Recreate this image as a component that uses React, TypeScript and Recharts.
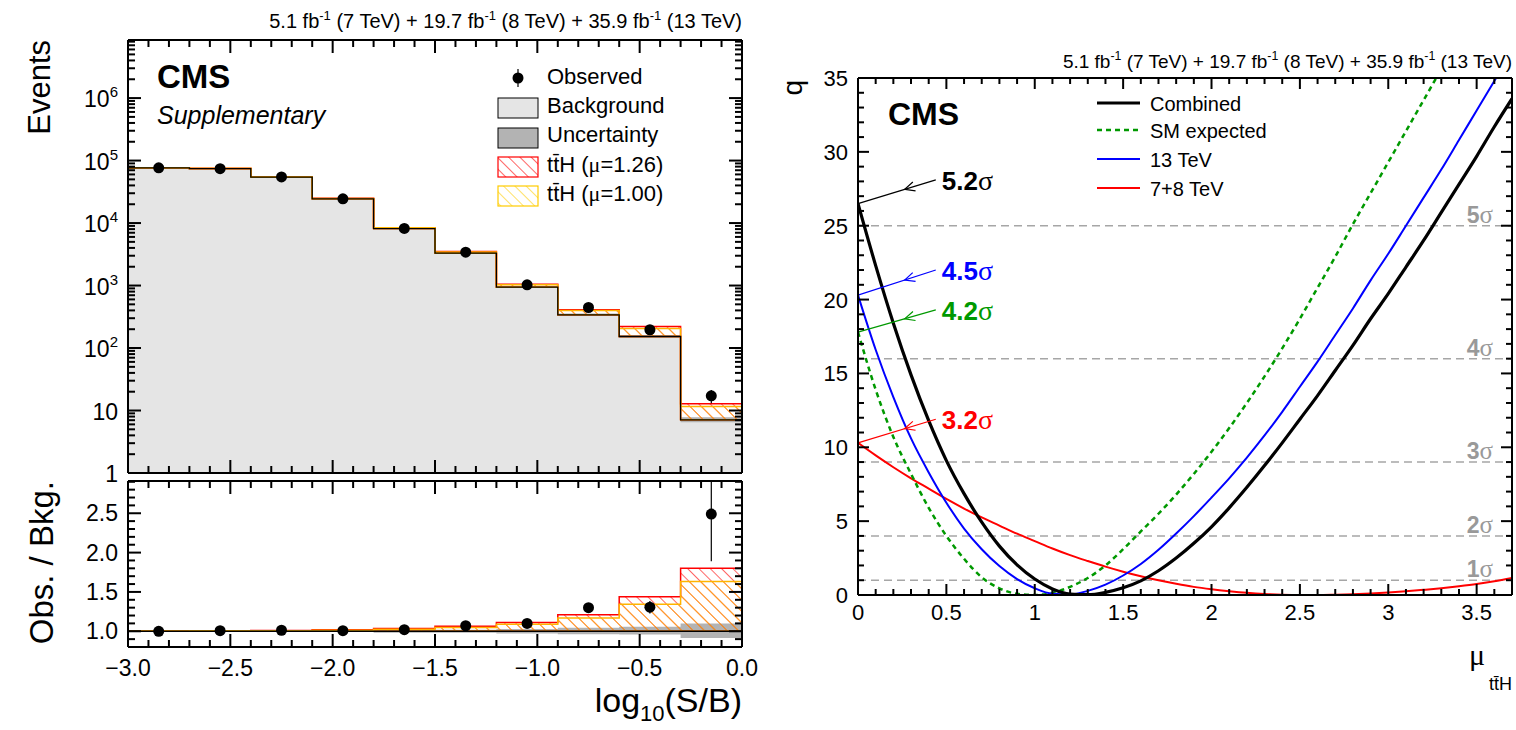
import React from "react";
import {
  ComposedChart,
  LineChart,
  Line,
  Area,
  Scatter,
  ErrorBar,
  XAxis,
  YAxis,
  ReferenceLine,
} from "recharts";

const FONT = "'Liberation Sans', Arial, Helvetica, sans-serif";
const SERIF = "'Liberation Serif', 'DejaVu Serif', serif";

// ---- left panel: events vs log10(S/B), 10 bins of 0.3
const binEdges = [-3.0, -2.7, -2.4, -2.1, -1.8, -1.5, -1.2, -0.9, -0.6, -0.3, 0.0];
const background = [76400, 74500, 54200, 24400, 8170, 3300, 943, 340, 153, 7.1];
const observed = [76400, 74000, 54700, 24400, 8200, 3420, 1026, 445, 196, 17.2];
const observedErr = [276, 272, 234, 156, 91, 58, 32, 21, 14, 4.1];
const uncLow = [0.996, 0.996, 0.995, 0.994, 0.982, 0.98, 0.972, 0.962, 0.958, 0.915];
const uncHigh = [1.004, 1.004, 1.005, 1.006, 1.018, 1.02, 1.03, 1.045, 1.058, 1.1];
const ttH126 = [1.003, 1.006, 1.01, 1.018, 1.034, 1.064, 1.11, 1.21, 1.44, 1.8];
const ttH100 = [1.002, 1.005, 1.008, 1.014, 1.025, 1.047, 1.09, 1.17, 1.344, 1.633];
const obsRatio = [1.0, 1.008, 1.013, 1.008, 1.02, 1.07, 1.1, 1.3, 1.306, 2.49];
const obsRatioErrLow = [0.004, 0.004, 0.004, 0.006, 0.011, 0.018, 0.031, 0.05, 0.08, 0.6];
const obsRatioErrHigh = [0.004, 0.004, 0.004, 0.006, 0.011, 0.018, 0.031, 0.05, 0.08, 0.42];

// ---- right panel: q vs mu_ttH
const muGrid = [
  0, 0.1, 0.2, 0.3, 0.4, 0.5, 0.6, 0.7, 0.8, 0.9, 1.0, 1.1, 1.2, 1.3, 1.4, 1.5, 1.6, 1.7, 1.8,
  1.9, 2.0, 2.1, 2.2, 2.3, 2.4, 2.5, 2.6, 2.7, 2.8, 2.9, 3.0, 3.1, 3.2, 3.3, 3.4, 3.5, 3.6, 3.7,
];
const qCombined = [
  26.5, 22.3, 18.4, 14.9, 11.8, 9.1, 6.86, 4.93, 3.31, 2.04, 1.08, 0.41, 0.06, 0.02, 0.18, 0.49,
  0.96, 1.64, 2.5, 3.5, 4.62, 5.9, 7.29, 8.76, 10.3, 11.9, 13.5, 15.2, 16.9, 18.7, 20.4, 22.2,
  24.0, 25.9, 27.8, 29.7, 31.7, 33.6,
];
const qExpected = [
  17.8, 13.9, 10.7, 8.2, 5.9, 4.0, 2.45, 1.2, 0.45, 0.08, 0.0, 0.15, 0.55, 1.15, 2.0, 3.1, 4.3,
  5.5, 6.8, 8.2, 9.7, 11.3, 13.0, 14.8, 16.7, 18.7, 20.8, 22.9, 25.1, 27.2, 29.3, 31.4, 33.5,
  35.6, 37.7, null, null, null,
];
const q13 = [
  20.3, 16.6, 13.4, 10.6, 8.3, 6.25, 4.5, 3.1, 1.96, 1.08, 0.46, 0.09, 0.05, 0.28, 0.7, 1.32, 2.1,
  3.06, 4.16, 5.34, 6.6, 7.9, 9.3, 10.8, 12.4, 14.1, 15.8, 17.6, 19.4, 21.3, 23.1, 25.0, 26.9,
  28.8, 30.8, 32.8, 34.8, 36.8,
];
const q78 = [
  10.3, 9.45, 8.65, 7.9, 7.2, 6.5, 5.85, 5.25, 4.7, 4.15, 3.65, 3.15, 2.7, 2.3, 1.92, 1.58, 1.27,
  1.0, 0.76, 0.55, 0.39, 0.26, 0.15, 0.07, 0.02, 0.0, 0.0, 0.02, 0.05, 0.1, 0.17, 0.25, 0.35,
  0.46, 0.59, 0.74, 0.93, 1.15,
];
const sigmaLevels = [1, 2, 3, 4, 5];
const sigmaNotes = [
  { text: "5.2", color: "#000000", q0: qCombined[0], qEnd: 28.1 },
  { text: "4.5", color: "#0000ff", q0: q13[0], qEnd: 22.0 },
  { text: "4.2", color: "#009900", q0: qExpected[0] as number, qEnd: 19.3 },
  { text: "3.2", color: "#ff0000", q0: q78[0], qEnd: 11.9 },
];
const lumiParts = [
  ["5.1", "7"],
  ["19.7", "8"],
  ["35.9", "13"],
];

// ---- ticks
const histMajor = [-3, -2.5, -2, -1.5, -1, -0.5, 0];
const histMajorLabels = ["\u22123.0", "\u22122.5", "\u22122.0", "\u22121.5", "\u22121.0", "\u22120.5", "0.0"];
const histMinor = Array.from({ length: 31 }, (_, i) => Math.round((-3 + i * 0.1) * 10) / 10);
const logMajor = [1, 10, 100, 1e3, 1e4, 1e5, 1e6];
const logExponent = [0, 1, 2, 3, 4, 5, 6];
const logTicks: number[] = [];
logMajor.forEach((d) => {
  for (let k = 1; k <= 9; k++) if (d * k < 8.5e6) logTicks.push(d * k);
});
const ratioMajor = [1.0, 1.5, 2.0, 2.5];
const ratioLabels = ["1.0", "1.5", "2.0", "2.5"];
const ratioMinor = Array.from({ length: 22 }, (_, i) => Math.round((0.8 + i * 0.1) * 10) / 10);
const muMajor = [0, 0.5, 1, 1.5, 2, 2.5, 3, 3.5];
const muLabels = ["0", "0.5", "1", "1.5", "2", "2.5", "3", "3.5"];
const muMinor = muGrid;
const qMajor = [0, 5, 10, 15, 20, 25, 30, 35];
const qLabels = ["0", "5", "10", "15", "20", "25", "30", "35"];
const qMinor = Array.from({ length: 36 }, (_, i) => i);

const histRows = binEdges.map((x, i) => {
  const k = Math.min(i, background.length - 1);
  const b = background[k];
  return {
    x,
    bkg: b,
    unc: [b * uncLow[k], b * uncHigh[k]],
    s126: [b, b * ttH126[k]],
    s100: [b, b * ttH100[k]],
    rUnc: [uncLow[k], uncHigh[k]],
    r126: [1, ttH126[k]],
    r100: [1, ttH100[k]],
  };
});
const binCenters = background.map((_, i) => (binEdges[i] + binEdges[i + 1]) / 2);
const obsRows = binCenters.map((x, i) => ({ x, y: observed[i], err: observedErr[i] }));
const ratioRows = binCenters.map((x, i) => ({
  x,
  y: obsRatio[i],
  err: [obsRatioErrLow[i], obsRatioErrHigh[i]],
}));
const qRows = muGrid.map((mu, i) => ({
  mu,
  comb: qCombined[i],
  exp: qExpected[i],
  q13: q13[i],
  q78: q78[i],
}));

const isIn = (majors: number[], v: number) =>
  majors.findIndex((m) => Math.abs(m - v) < 1e-6 * Math.max(1, Math.abs(m)));

function makeLabel(majors: number[], label: (i: number, x: number, y: number) => React.ReactNode) {
  return (props: any) => {
    const i = isIn(majors, Number(props.payload?.value));
    return <g>{i >= 0 ? label(i, Number(props.x), Number(props.y)) : null}</g>;
  };
}

// plot frames (page pixels) matching the chart margins below
type Box = { left: number; right: number; top: number; bottom: number; x0: number; x1: number; y0: number; y1: number; logY?: boolean };
const upperBox: Box = { left: 128, right: 742, top: 40, bottom: 473, x0: -3, x1: 0, y0: 1, y1: 8.5e6, logY: true };
const ratioBox: Box = { left: 128, right: 742, top: 481, bottom: 647, x0: -3, x1: 0, y0: 0.8, y1: 2.91 };
const scanBox: Box = { left: 858, right: 1512, top: 78, bottom: 595, x0: 0, x1: 3.7, y0: 0, y1: 35 };

// inward ROOT-style tick marks on all four sides of a frame
function FrameTicks({ b, xs, xMaj, ys, yMaj, big, small }: { b: Box; xs: number[]; xMaj: number[]; ys: number[]; yMaj: number[]; big: number; small: number }) {
  const px = (v: number) => b.left + ((v - b.x0) / (b.x1 - b.x0)) * (b.right - b.left);
  const py = (v: number) =>
    b.logY
      ? b.bottom - (Math.log10(v / b.y0) / Math.log10(b.y1 / b.y0)) * (b.bottom - b.top)
      : b.bottom - ((v - b.y0) / (b.y1 - b.y0)) * (b.bottom - b.top);
  const segs: React.ReactNode[] = [];
  xs.forEach((v, i) => {
    const L = isIn(xMaj, v) >= 0 ? big : small;
    const x = px(v);
    segs.push(<line key={`xb${i}`} x1={x} y1={b.bottom} x2={x} y2={b.bottom - L} />);
    segs.push(<line key={`xt${i}`} x1={x} y1={b.top} x2={x} y2={b.top + L} />);
  });
  ys.forEach((v, i) => {
    const L = isIn(yMaj, v) >= 0 ? big : small;
    const y = py(v);
    segs.push(<line key={`yl${i}`} x1={b.left} y1={y} x2={b.left + L} y2={y} />);
    segs.push(<line key={`yr${i}`} x1={b.right} y1={y} x2={b.right - L} y2={y} />);
  });
  return (
    <g stroke="#000" strokeWidth={2}>
      {segs}
    </g>
  );
}

const frame = { stroke: "#000", strokeWidth: 2 };
const txt = { fontFamily: FONT, fill: "#000" };

const histXLabel = (i: number, x: number, y: number) => (
  <text x={x} y={y + 27} textAnchor="middle" fontSize={23} {...txt}>
    {histMajorLabels[i]}
  </text>
);
const logLabel = (i: number, x: number, y: number) => {
  const e = logExponent[i];
  return (
    <text x={x - 8} y={y + 9} textAnchor="end" fontSize={23} {...txt}>
      {e === 0 ? "1" : "10"}
      {e > 1 ? (
        <tspan dy={-10} fontSize={15}>
          {e}
        </tspan>
      ) : null}
    </text>
  );
};
const ratioLabel = (i: number, x: number, y: number) => (
  <text x={x - 8} y={y + 8} textAnchor="end" fontSize={23} {...txt}>
    {ratioLabels[i]}
  </text>
);
const muLabel = (i: number, x: number, y: number) => (
  <text x={x} y={y + 23} textAnchor="middle" fontSize={22} {...txt}>
    {muLabels[i]}
  </text>
);
const qLabel = (i: number, x: number, y: number) => (
  <text x={x - 8} y={y + 8} textAnchor="end" fontSize={22} {...txt}>
    {qLabels[i]}
  </text>
);

const dotShape = (p: any) => <circle cx={p.cx} cy={p.cy} r={5.5} fill="#000" />;

function Hatch({ id, color, width }: { id: string; color: string; width: number }) {
  return (
    <pattern id={id} patternUnits="userSpaceOnUse" width={8} height={8} patternTransform="rotate(-45)">
      <line x1={0} y1={0} x2={0} y2={8} stroke={color} strokeWidth={width} />
    </pattern>
  );
}

function SigmaTag(props: any) {
  const { viewBox, n } = props;
  if (!viewBox) return null;
  return (
    <text
      x={viewBox.x + viewBox.width - 19}
      y={viewBox.y - 3}
      textAnchor="end"
      fill="#999999"
      fontFamily={FONT}
      fontWeight="bold"
      fontSize={23}
    >
      {n}
      <tspan fontFamily={SERIF} fontWeight="normal" fontSize={25}>
        σ
      </tspan>
    </text>
  );
}

const noteShape = (text: string, color: string) => (p: any) => {
  const { x1, y1, x2, y2 } = p;
  const dx = x1 - x2;
  const dy = y1 - y2;
  const len = Math.sqrt(dx * dx + dy * dy);
  const ux = dx / len;
  const uy = dy / len;
  const tx = x1 - 0.6 * dx;
  const ty = y1 - 0.6 * dy;
  const a = (25 * Math.PI) / 180;
  const w = (s: number) => {
    const rx = ux * Math.cos(s * a) - uy * Math.sin(s * a);
    const ry = ux * Math.sin(s * a) + uy * Math.cos(s * a);
    return `${tx - 11 * rx},${ty - 11 * ry}`;
  };
  return (
    <g>
      <line x1={x1} y1={y1} x2={x2} y2={y2} stroke={color} strokeWidth={1.2} />
      <polyline points={`${w(1)} ${tx},${ty} ${w(-1)}`} fill="none" stroke={color} strokeWidth={1.2} />
      <text x={x2 + 6} y={y2 + 10} fill={color} fontFamily={FONT} fontWeight="bold" fontSize={26}>
        {text}
        <tspan fontFamily={SERIF} fontWeight="normal" fontSize={28}>
          σ
        </tspan>
      </text>
    </g>
  );
};

function Lumi({ x, y, size }: { x: number; y: number; size: number }) {
  const sup = size * 0.4;
  return (
    <text x={x} y={y} textAnchor="end" fontSize={size} {...txt}>
      {lumiParts.map(([l], i) => (
        <React.Fragment key={i}>
          <tspan dy={i === 0 ? 0 : sup}>{(i === 0 ? "" : ` (${lumiParts[i - 1][1]} TeV) + `) + l + " fb"}</tspan>
          <tspan dy={-sup} fontSize={size * 0.65}>
            -1
          </tspan>
        </React.Fragment>
      ))}
      <tspan dy={sup}>{` (${lumiParts[lumiParts.length - 1][1]} TeV)`}</tspan>
    </text>
  );
}

const xCommon = { type: "number" as const, interval: 0, height: 1, tickSize: 0, tickLine: false, axisLine: frame, allowDataOverflow: true };
const yCommon = { type: "number" as const, interval: 0, width: 1, tickSize: 0, tickLine: false, axisLine: frame, allowDataOverflow: true };

function UpperHist() {
  return (
    <ComposedChart width={760} height={492} data={histRows} margin={{ top: 39, right: 17, bottom: 18, left: 127 }}>
      <defs>
        <Hatch id="hRed" color="#ff0000" width={1.2} />
        <Hatch id="hYel" color="#ffb400" width={1.4} />
      </defs>
      <XAxis {...xCommon} dataKey="x" domain={[-3, 0]} ticks={histMinor} tick={false} />
      <XAxis {...xCommon} xAxisId="top" orientation="top" dataKey="x" domain={[-3, 0]} tick={false} />
      <YAxis {...yCommon} scale="log" domain={[1, 8.5e6]} ticks={logTicks} tick={makeLabel(logMajor, logLabel)} />
      <YAxis {...yCommon} yAxisId="right" orientation="right" scale="log" domain={[1, 8.5e6]} tick={false} />
      <Area dataKey="bkg" type="stepAfter" baseValue={1} fill="#e5e5e5" fillOpacity={1} stroke="none" isAnimationActive={false} />
      <Area dataKey="unc" type="stepAfter" fill="#b3b3b3" fillOpacity={1} stroke="none" isAnimationActive={false} />
      <Area dataKey="s126" type="stepAfter" fill="url(#hRed)" fillOpacity={1} stroke="#ff0000" strokeWidth={1.5} isAnimationActive={false} />
      <Area dataKey="s100" type="stepAfter" fill="url(#hYel)" fillOpacity={1} stroke="#ffb400" strokeWidth={1.5} isAnimationActive={false} />
      <Line dataKey="bkg" type="stepAfter" stroke="#000" strokeWidth={1.3} dot={false} isAnimationActive={false} />
      <Scatter data={obsRows} dataKey="y" shape={dotShape} isAnimationActive={false}>
        <ErrorBar dataKey="err" direction="y" width={0} stroke="#000" strokeWidth={1.2} />
      </Scatter>
    </ComposedChart>
  );
}

function RatioHist() {
  return (
    <ComposedChart width={760} height={260} data={histRows} margin={{ top: 10, right: 17, bottom: 82, left: 127 }}>
      <defs>
        <Hatch id="rRed" color="#ff0000" width={1.2} />
        <Hatch id="rYel" color="#ffb400" width={1.4} />
      </defs>
      <XAxis {...xCommon} dataKey="x" domain={[-3, 0]} ticks={histMinor} tick={makeLabel(histMajor, histXLabel)} />
      <XAxis {...xCommon} xAxisId="top" orientation="top" dataKey="x" domain={[-3, 0]} tick={false} />
      <YAxis {...yCommon} domain={[0.8, 2.91]} ticks={ratioMinor} tick={makeLabel(ratioMajor, ratioLabel)} />
      <YAxis {...yCommon} yAxisId="right" orientation="right" domain={[0.8, 2.91]} tick={false} />
      <Area dataKey="rUnc" type="stepAfter" fill="#b3b3b3" fillOpacity={1} stroke="none" isAnimationActive={false} />
      <Area dataKey="r126" type="stepAfter" fill="url(#rRed)" fillOpacity={1} stroke="#ff0000" strokeWidth={1.5} isAnimationActive={false} />
      <Area dataKey="r100" type="stepAfter" fill="url(#rYel)" fillOpacity={1} stroke="#ffb400" strokeWidth={1.5} isAnimationActive={false} />
      <ReferenceLine y={1} stroke="#000" strokeWidth={1.3} />
      <Scatter data={ratioRows} dataKey="y" shape={dotShape} isAnimationActive={false}>
        <ErrorBar dataKey="err" direction="y" width={0} stroke="#000" strokeWidth={1.2} />
      </Scatter>
    </ComposedChart>
  );
}

function LikelihoodScan() {
  return (
    <LineChart width={756} height={730} data={qRows} margin={{ top: 77, right: 3, bottom: 134, left: 97 }}>
      <XAxis {...xCommon} dataKey="mu" domain={[0, 3.7]} ticks={muMinor} tick={makeLabel(muMajor, muLabel)} />
      <XAxis {...xCommon} xAxisId="top" orientation="top" dataKey="mu" domain={[0, 3.7]} tick={false} />
      <YAxis {...yCommon} domain={[0, 35]} ticks={qMinor} tick={makeLabel(qMajor, qLabel)} />
      <YAxis {...yCommon} yAxisId="right" orientation="right" domain={[0, 35]} tick={false} />
      {sigmaLevels.map((n) => (
        <ReferenceLine key={n} y={n * n} stroke="#a6a6a6" strokeWidth={1.5} strokeDasharray="8 5" label={<SigmaTag n={n} />} />
      ))}
      <Line dataKey="q78" type="monotone" stroke="#ff0000" strokeWidth={2} dot={false} isAnimationActive={false} />
      <Line dataKey="exp" type="monotone" stroke="#009900" strokeWidth={2.5} strokeDasharray="5 4" dot={false} isAnimationActive={false} />
      <Line dataKey="q13" type="monotone" stroke="#0000ff" strokeWidth={2} dot={false} isAnimationActive={false} />
      <Line dataKey="comb" type="monotone" stroke="#000" strokeWidth={3.2} dot={false} isAnimationActive={false} />
      {sigmaNotes.map((s) => (
        <ReferenceLine
          key={s.text}
          segment={[
            { x: 0, y: s.q0 },
            { x: 0.44, y: s.qEnd },
          ]}
          shape={noteShape(s.text, s.color)}
        />
      ))}
    </LineChart>
  );
}

function Overlay() {
  const ttH = (
    <>
      t<tspan>t{"\u0304"}</tspan>H
    </>
  );
  return (
    <svg width={1516} height={730} style={{ position: "absolute", left: 0, top: 0, pointerEvents: "none" }}>
      <defs>
        <Hatch id="lRed" color="#ff0000" width={1.2} />
        <Hatch id="lYel" color="#ffcc00" width={1.2} />
      </defs>
      <FrameTicks b={upperBox} xs={histMinor} xMaj={histMajor} ys={logTicks} yMaj={logMajor} big={13} small={7} />
      <FrameTicks b={ratioBox} xs={histMinor} xMaj={histMajor} ys={ratioMinor} yMaj={ratioMajor} big={13} small={7} />
      <FrameTicks b={scanBox} xs={muMinor} xMaj={muMajor} ys={qMinor} yMaj={qMajor} big={11} small={6} />

      <Lumi x={742} y={28} size={20} />
      <Lumi x={1512} y={68} size={19} />

      {/* left panel texts */}
      <text x={50} y={40} transform="rotate(-90 50 40)" textAnchor="end" fontSize={31} {...txt}>
        Events
      </text>
      <text x={53} y={481} transform="rotate(-90 53 481)" textAnchor="end" fontSize={33} {...txt}>
        Obs. / Bkg.
      </text>
      <text x={742} y={712} textAnchor="end" fontSize={34} {...txt}>
        log
        <tspan dy={9} fontSize={22}>
          10
        </tspan>
        <tspan dy={-9}>(S/B)</tspan>
      </text>
      <text x={157} y={88} fontSize={33} fontWeight="bold" {...txt}>
        CMS
      </text>
      <text x={157} y={124} fontSize={25} fontStyle="italic" {...txt}>
        Supplementary
      </text>

      {/* left legend */}
      <line x1={518} y1={69} x2={518} y2={87} stroke="#000" strokeWidth={1.2} />
      <circle cx={518} cy={78} r={5.5} fill="#000" />
      <rect x={498} y={98} width={40} height={20} fill="#e5e5e5" stroke="#000" strokeWidth={1} />
      <rect x={498} y={128} width={40} height={20} fill="#b3b3b3" stroke="#000" strokeWidth={1} />
      <rect x={498} y={157} width={40} height={20} fill="url(#lRed)" stroke="#ff0000" strokeWidth={1.2} />
      <rect x={498} y={186} width={40} height={20} fill="url(#lYel)" stroke="#ffcc00" strokeWidth={1.2} />
      <text x={547} y={84} fontSize={22} {...txt}>Observed</text>
      <text x={547} y={113} fontSize={22} {...txt}>Background</text>
      <text x={547} y={142} fontSize={22} {...txt}>Uncertainty</text>
      <text x={547} y={172} fontSize={22} {...txt}>
        {ttH} (<tspan fontFamily={SERIF}>μ</tspan>=1.26)
      </text>
      <text x={547} y={201} fontSize={22} {...txt}>
        {ttH} (<tspan fontFamily={SERIF}>μ</tspan>=1.00)
      </text>

      {/* right panel texts */}
      <text x={802} y={80} transform="rotate(-90 802 80)" textAnchor="end" fontSize={28} {...txt}>
        q
      </text>
      <text x={1469} y={665} fontSize={30} fontFamily={SERIF} fill="#000">
        μ
      </text>
      <text x={1512} y={690} textAnchor="end" fontSize={18} {...txt}>
        {ttH}
      </text>
      <text x={888} y={125} fontSize={32} fontWeight="bold" {...txt}>
        CMS
      </text>

      {/* right legend */}
      <line x1={1097} y1={103} x2={1140} y2={103} stroke="#000" strokeWidth={3.2} />
      <line x1={1097} y1={130} x2={1140} y2={130} stroke="#009900" strokeWidth={2.5} strokeDasharray="5 4" />
      <line x1={1097} y1={159} x2={1140} y2={159} stroke="#0000ff" strokeWidth={2} />
      <line x1={1097} y1={188} x2={1140} y2={188} stroke="#ff0000" strokeWidth={2} />
      <text x={1150} y={111} fontSize={20} {...txt}>Combined</text>
      <text x={1150} y={138} fontSize={20} {...txt}>SM expected</text>
      <text x={1150} y={167} fontSize={20} {...txt}>13 TeV</text>
      <text x={1150} y={196} fontSize={20} {...txt}>7+8 TeV</text>
    </svg>
  );
}

export default function App() {
  return (
    <div style={{ position: "absolute", left: 0, top: 0, width: 1516, height: 730, background: "#fff", fontFamily: FONT }}>
      <div style={{ position: "absolute", left: 0, top: 0 }}>
        <UpperHist />
      </div>
      <div style={{ position: "absolute", left: 0, top: 470 }}>
        <RatioHist />
      </div>
      <div style={{ position: "absolute", left: 760, top: 0 }}>
        <LikelihoodScan />
      </div>
      <Overlay />
    </div>
  );
}
